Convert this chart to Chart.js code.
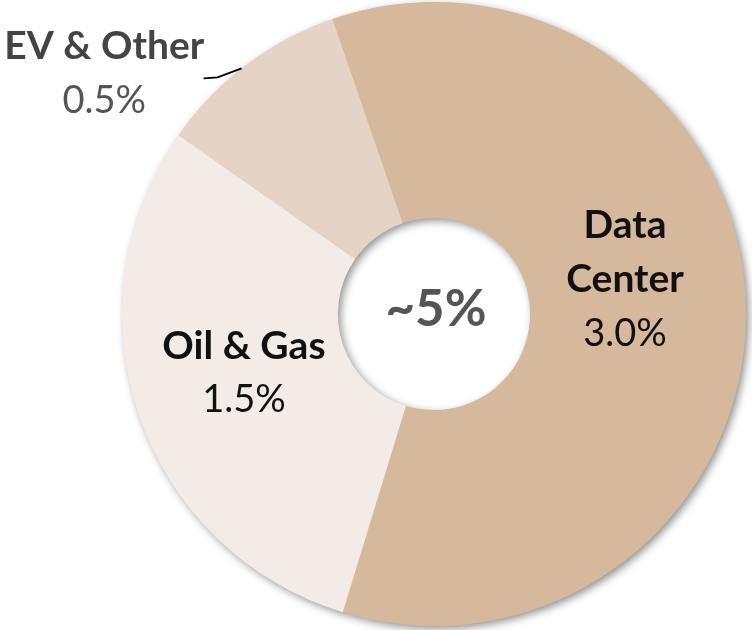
<!DOCTYPE html>
<html>
<head>
<meta charset="utf-8">
<script src="https://cdn.jsdelivr.net/npm/chart.js@4"></script>
<style>
  html, body { margin: 0; padding: 0; background: #fff; }
  #wrap { width: 752px; height: 630px; position: relative; }
</style>
</head>
<body>
<div id="wrap"><canvas id="c" width="752" height="630"></canvas></div>
<script>
const categories = ["Data Center", "Oil & Gas", "EV & Other"];
const shareValues = [3.0, 1.5, 0.5];
const valueLabels = ["3.0%", "1.5%", "0.5%"];
const centerLabel = "~5%";
const sliceColors = ["#D6B89D", "#F3ECE6", "#E5D4C5"];

const FONT = "Lato, 'Source Sans Pro', 'Noto Sans', sans-serif";

// label layout: polar placement (deg from top clockwise, radius multiple of outer radius), per category
const labelLayout = [
  { angle: 79.8, r: 0.622, nameLines: ["Data", "Center"], nameColor: "#111111", valueColor: "#111111" },
  { angle: 252.7, r: 0.638, nameLines: ["Oil & Gas"], nameColor: "#111111", valueColor: "#111111" },
  { angle: 306.1, r: 1.308, nameLines: ["EV & Other"], nameColor: "#444444", valueColor: "#555555" }
];

const shadowPlugin = {
  id: 'ringShadow',
  beforeDatasetsDraw(chart) {
    const arc = chart.getDatasetMeta(0).data[0];
    if (!arc) return;
    const { x, y, outerRadius, innerRadius } = arc.getProps(['x', 'y', 'outerRadius', 'innerRadius'], true);
    const ctx = chart.ctx;
    ctx.save();
    ctx.shadowColor = 'rgba(0,0,0,0.45)';
    ctx.shadowBlur = 9;
    ctx.shadowOffsetX = 3;
    ctx.shadowOffsetY = 3;
    ctx.beginPath();
    ctx.arc(x, y, outerRadius - 0.5, 0, Math.PI * 2);
    ctx.arc(x, y, innerRadius + 0.5, 0, Math.PI * 2, true);
    ctx.fillStyle = sliceColors[0];
    ctx.fill('evenodd');
    ctx.restore();
  }
};

const labelPlugin = {
  id: 'sliceLabels',
  afterDatasetsDraw(chart) {
    const meta = chart.getDatasetMeta(0);
    const ctx = chart.ctx;
    const a0 = meta.data[0];
    const { x: cx, y: cy, outerRadius: R } = a0.getProps(['x', 'y', 'outerRadius'], true);
    const lineGap = 54;
    ctx.save();
    ctx.textAlign = 'center';
    ctx.textBaseline = 'middle';
    labelLayout.forEach((L, i) => {
      const ang = L.angle * Math.PI / 180;
      const px = cx + Math.sin(ang) * R * L.r;
      const py = cy - Math.cos(ang) * R * L.r;
      const lines = [...L.nameLines.map(t => ({ t, bold: true, c: L.nameColor })), { t: valueLabels[i], bold: false, c: L.valueColor }];
      const startY = py - (lines.length - 1) * lineGap / 2;
      lines.forEach((ln, k) => {
        ctx.font = (ln.bold ? 'bold 39px ' : '38px ') + FONT;
        ctx.fillStyle = ln.c;
        ctx.fillText(ln.t, px, startY + k * lineGap);
      });
    });
    // leader line for the small slice
    const evArc = meta.data[2];
    const p = evArc.getProps(['startAngle', 'endAngle'], true);
    const mid = (p.startAngle + p.endAngle) / 2 - 0.019;
    const sx = cx + Math.cos(mid) * R;
    const sy = cy + Math.sin(mid) * R;
    ctx.beginPath();
    ctx.moveTo(sx, sy);
    ctx.lineTo(sx - 24, sy + 9);
    ctx.lineTo(sx - 38, sy + 10);
    ctx.strokeStyle = '#000';
    ctx.lineWidth = 1.8;
    ctx.stroke();
    // center label
    ctx.font = 'bold 51px ' + FONT;
    ctx.fillStyle = '#555555';
    ctx.fillText(centerLabel, cx + 2, cy - 4);
    ctx.restore();
  }
};

new Chart(document.getElementById('c'), {
  type: 'doughnut',
  data: {
    labels: categories,
    datasets: [{
      data: shareValues,
      backgroundColor: sliceColors,
      borderWidth: 0,
      hoverOffset: 0
    }]
  },
  options: {
    responsive: false,
    animation: false,
    rotation: -19,
    cutout: '30.8%',
    layout: { padding: { left: 122, right: 6, top: 2, bottom: 4 } },
    plugins: {
      legend: { display: false },
      tooltip: { enabled: false }
    },
    events: []
  },
  plugins: [shadowPlugin, labelPlugin]
});
</script>
</body>
</html>
